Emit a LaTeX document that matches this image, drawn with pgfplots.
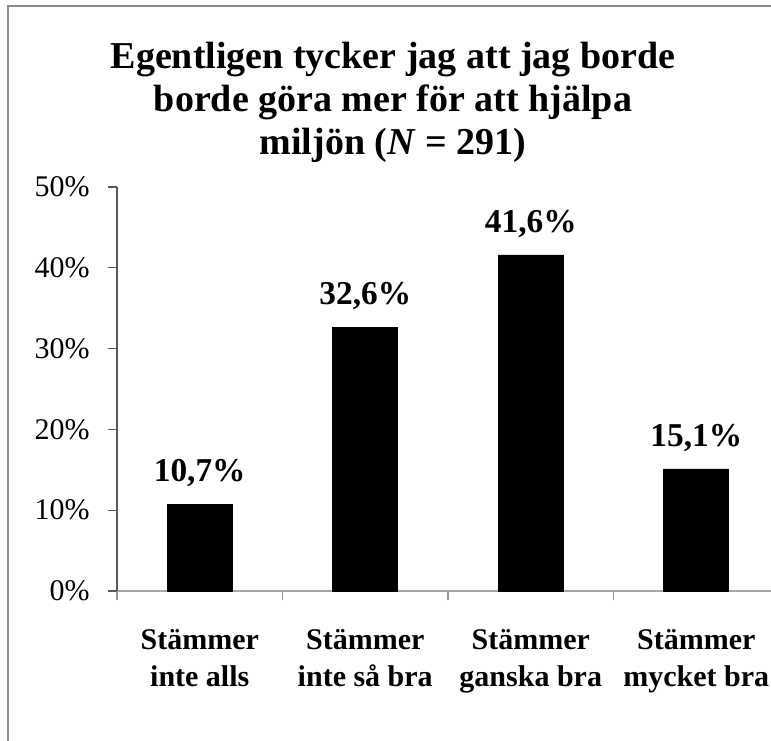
\documentclass[border=0pt]{standalone}
\usepackage{fontspec}
\setmainfont{Liberation Serif}
\usepackage{pgfplots}
\pgfplotsset{compat=1.18}
\begin{document}
\begin{tikzpicture}[x=0.75pt,y=0.75pt]
\useasboundingbox (0,0) rectangle (771,-741);
\clip (0,0) rectangle (771,-741);
\fill[white] (0,0) rectangle (771,-741);
\draw[color=black!45, line width=1.5pt] (8,-745) -- (8,-6) -- (780,-6);
\node[anchor=north, inner sep=0pt, align=center, font=\fontsize{28.5}{32.25}\selectfont\bfseries] at (393,-42) {Egentligen tycker jag att jag borde\\borde göra mer för att hjälpa\\miljön (\textit{N} = 291)};
\begin{axis}[
  at={(87.75pt,-443.25pt)}, anchor=south west,
  scale only axis, width=496.5pt, height=303pt,
  xmin=-0.5, xmax=3.5, ymin=0, ymax=50,
  axis x line*=bottom, axis y line*=left,
  axis line style={-},
  x axis line style={-, draw=black!35, line width=1pt},
  y axis line style={-, draw=black!65, line width=1pt},
  tick align=outside,
  major tick length=6.75pt, minor tick length=6.75pt,
  ytick={0,10,20,30,40,50},
  yticklabels={0\%,10\%,20\%,30\%,40\%,50\%},
  ytick style={draw=black!65, line width=1pt},
  yticklabel style={font=\fontsize{22.5}{27}\selectfont, anchor=east, inner sep=0pt, xshift=-13.5pt},
  xtick={0,1,2,3},
  xticklabels={{Stämmer\\inte alls},{Stämmer\\inte så bra},{Stämmer\\ganska bra},{Stämmer\\mycket bra}},
  xticklabel style={align=center, font=\fontsize{22.5}{27.75}\selectfont\bfseries, inner sep=0pt, anchor=north, yshift=-21.75pt},
  every major x tick/.append style={draw=none},
  minor xtick={-0.5,0.5,1.5,2.5,3.5},
  every minor tick/.append style={draw=black!40, line width=1pt},
  ybar, bar width=48.75pt,
  nodes near coords, point meta=explicit symbolic,
  nodes near coords style={font=\fontsize{25}{30}\selectfont\bfseries, anchor=base, inner sep=0pt, yshift=17pt},
]
\addplot[fill=black, draw=black] coordinates {(0,10.7)[10,7\%] (1,32.6)[32,6\%] (2,41.6)[41,6\%] (3,15.1)[15,1\%]};
\end{axis}
\end{tikzpicture}
\end{document}
